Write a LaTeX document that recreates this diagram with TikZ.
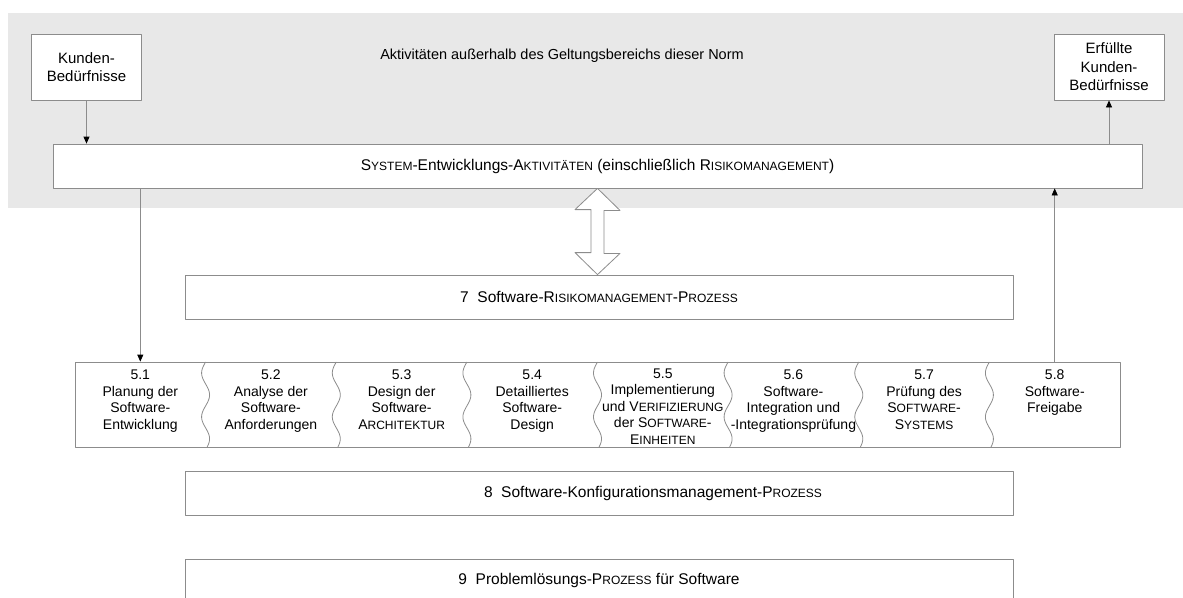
\documentclass[tikz,border=0pt]{standalone}
\usepackage{fontspec}
\setmainfont{Liberation Sans}
\usetikzlibrary{calc,arrows.meta,positioning}
\newcommand{\kap}[2]{#1{\fontsize{12}{12}\selectfont #2}}

\begin{document}
\begin{tikzpicture}[x=1pt,y=-1pt,line join=round,
  every node/.style={font=\fontsize{14.5}{16.5}\selectfont},
  box/.style={draw=gray!90,fill=white,line width=0.8pt,inner sep=0pt,font=\fontsize{15.5}{17}\selectfont},
  flow/.style={draw=gray!90,line width=0.8pt,-{Triangle[width=6pt,length=7pt,color=black]}},
  cell/.style={anchor=north,align=center,inner sep=0pt,font=\fontsize{14}{16.5}\selectfont},
  corner/.style={box,minimum width=110,minimum height=66,align=center,font=\fontsize{15}{18.5}\selectfont}]
  \useasboundingbox (0,0) rectangle (1183,597);
  \fill[black!9] (8,13) rectangle (1183,208);

  \node[corner] (kunden) at (86.5,67) {Kunden-\\Bedürfnisse};
  \node[corner] (erfuellt) at (1109,67) {Erfüllte\\Kunden-\\Bedürfnisse};
  \node (norm) at (562,56) {Aktivitäten außerhalb des Geltungsbereichs dieser Norm};
  \node[box,minimum width=1089,minimum height=44] (system) at (597.5,166)
    {\kap{S}{YSTEM}-Entwicklungs-\kap{A}{KTIVITÄTEN} (einschließlich \kap{R}{ISIKOMANAGEMENT})};

  \node[box,minimum width=828,minimum height=44] (risiko) at (599,297)
    {7\ \ Software-\kap{R}{ISIKOMANAGEMENT}-\kap{P}{ROZESS}};

  \draw[gray!90,fill=white,line width=0.8pt] (system.south) -- ++(22.5,22) -- ++(-16,0) -- ++(0,43)
    -- ++(16,0) -- (system.south |- risiko.north) -- ++(-22.5,-22) -- ++(16,0) -- ++(0,-43) -- ++(-16,0) -- cycle;

  \node[box,minimum width=1045,minimum height=85] (row) at (597.5,404.5) {};
  \foreach \xd in {205.6,336.3,466.9,597.5,728.1,858.8,989.4}
    \draw[gray!90,line width=0.8pt] plot[domain=0:85,samples=50,variable=\t] ({\xd-4*sin(\t*8.2)},{362+\t});

  \node[cell] (c51) at (140.3,370) {5.1\\Planung der\\Software-\\Entwicklung};
  \node[cell] (c52) at (270.9,370) {5.2\\Analyse der\\Software-\\Anforderungen};
  \node[cell] (c53) at (401.6,370) {5.3\\Design der\\Software-\\\kap{A}{RCHITEKTUR}};
  \node[cell] (c54) at (532.2,370) {5.4\\Detailliertes\\Software-\\Design};
  \node[cell] (c55) at (662.8,368.5) {5.5\\Implementierung\\und \kap{V}{ERIFIZIERUNG}\\der \kap{S}{OFTWARE}-\\\kap{E}{INHEITEN}};
  \node[cell] (c56) at (793.4,370) {5.6\\Software-\\Integration und\\-Integrationsprüfung};
  \node[cell] (c57) at (924.1,370) {5.7\\Prüfung des\\\kap{S}{OFTWARE}-\\\kap{S}{YSTEMS}};
  \node[cell] (c58) at (1054.7,370) {5.8\\Software-\\Freigabe};

  \node[box,minimum width=828,minimum height=44] (konfig) at (599,493) {};
  \node[font=\fontsize{15.5}{17}\selectfont] (konfigtext) at ([xshift=54pt]konfig.center)
    {8\ \ Software-Konfigurationsmanagement-\kap{P}{ROZESS}};
  \node[box,minimum width=828,minimum height=60] (problem) at (599,589) {};
  \node[font=\fontsize{15.5}{17}\selectfont] (problemtext) at (599,580) {9\ \ Problemlösungs-\kap{P}{ROZESS} für Software};

  \draw[flow] (kunden.south) -- (kunden.south |- system.north);
  \draw[flow] (system.north -| erfuellt) -- (erfuellt.south);
  \draw[flow] (system.south -| c51) -- (row.north -| c51);
  \draw[flow] (row.north -| c58) -- (system.south -| c58);
\end{tikzpicture}
\end{document}
